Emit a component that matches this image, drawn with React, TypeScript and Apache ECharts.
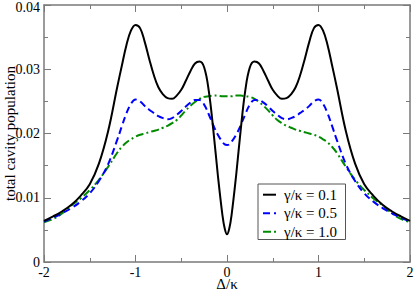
import React, { useEffect, useRef } from "react";
import * as echarts from "echarts";

// Detuning Δ/κ
const detuning = [
  -2, -1.9, -1.8, -1.7, -1.6, -1.5, -1.4, -1.3, -1.2, -1.15, -1.1, -1.05, -1,
  -0.95, -0.9, -0.85, -0.8, -0.75, -0.7, -0.65, -0.6, -0.55, -0.5, -0.45, -0.4,
  -0.35, -0.3, -0.25, -0.2, -0.15, -0.1, -0.05, -0.025, 0, 0.025, 0.05, 0.1,
  0.15, 0.2, 0.25, 0.3, 0.35, 0.4, 0.45, 0.5, 0.55, 0.6, 0.65, 0.7, 0.75, 0.8,
  0.85, 0.9, 0.95, 1, 1.05, 1.1, 1.15, 1.2, 1.3, 1.4, 1.5, 1.6, 1.7, 1.8, 1.9, 2,
];

// γ/κ = 0.1
const popGamma01 = [
  0.0064, 0.0071, 0.0079, 0.0089, 0.0103, 0.0121, 0.0153, 0.0203, 0.0272,
  0.0305, 0.0337, 0.036, 0.0369, 0.0364, 0.0343, 0.0316, 0.0291, 0.0272, 0.0261,
  0.0255, 0.0254, 0.0259, 0.0268, 0.0282, 0.0297, 0.0309, 0.0312, 0.0303,
  0.0267, 0.0206, 0.0135, 0.0073, 0.0052, 0.0043, 0.0052, 0.0073, 0.0135,
  0.0206, 0.0267, 0.0303, 0.0312, 0.0309, 0.0297, 0.0282, 0.0268, 0.0259,
  0.0254, 0.0255, 0.0261, 0.0272, 0.0291, 0.0316, 0.0343, 0.0364, 0.0369,
  0.036, 0.0337, 0.0305, 0.0272, 0.0203, 0.0153, 0.0121, 0.0103, 0.0089,
  0.0079, 0.0071, 0.0064,
];

// γ/κ = 0.5
const popGamma05 = [
  0.0063, 0.0069, 0.0076, 0.0084, 0.0094, 0.0107, 0.0126, 0.0152, 0.019, 0.0211,
  0.0231, 0.0246, 0.0253, 0.025, 0.0243, 0.0237, 0.0232, 0.0227, 0.0224, 0.0222,
  0.0224, 0.0229, 0.0235, 0.0242, 0.0248, 0.0252, 0.0252, 0.0245, 0.023,
  0.0213, 0.0198, 0.0187, 0.0183, 0.0182, 0.0183, 0.0187, 0.0198, 0.0213,
  0.023, 0.0245, 0.0252, 0.0252, 0.0248, 0.0242, 0.0235, 0.0229, 0.0224,
  0.0222, 0.0224, 0.0227, 0.0232, 0.0237, 0.0243, 0.025, 0.0253, 0.0246,
  0.0231, 0.0211, 0.019, 0.0152, 0.0126, 0.0107, 0.0094, 0.0084, 0.0076,
  0.0069, 0.0063,
];

// γ/κ = 1.0
const popGamma10 = [
  0.0062, 0.0067, 0.0076, 0.0088, 0.0099, 0.0112, 0.0128, 0.0148, 0.017, 0.0179,
  0.0186, 0.0191, 0.0195, 0.0198, 0.02, 0.0202, 0.0204, 0.0206, 0.0209, 0.0212,
  0.0216, 0.0221, 0.0228, 0.0236, 0.0243, 0.0249, 0.0254, 0.0257, 0.0258,
  0.0259, 0.0259, 0.0258, 0.0258, 0.0258, 0.0258, 0.0258, 0.0259, 0.0259,
  0.0258, 0.0257, 0.0254, 0.0249, 0.0243, 0.0236, 0.0228, 0.0221, 0.0216,
  0.0212, 0.0209, 0.0206, 0.0204, 0.0202, 0.02, 0.0198, 0.0195, 0.0191, 0.0186,
  0.0179, 0.017, 0.0148, 0.0128, 0.0112, 0.0099, 0.0088, 0.0076, 0.0067,
  0.0062,
];

const seriesNames = ["γ/κ = 0.1", "γ/κ = 0.5", "γ/κ = 1.0"];
const seriesColors = ["#000000", "#0000ff", "#008b00"];
const seriesDash: (number[] | null)[] = [null, [7, 4], [8, 3, 2, 3]];
const xLabelName = "Δ/κ";
const yLabelName = "total cavity population";
const yMaxLabel = "0.04";

const FONT = "'Times New Roman', 'Liberation Serif', serif";
const FRAME = "#7a7a7a";

export default function App() {
  const ref = useRef<HTMLDivElement>(null);

  useEffect(() => {
    if (!ref.current) return;
    const chart = echarts.init(ref.current, undefined, { renderer: "svg" });
    const pairs = (ys: number[]) => detuning.map((x, i) => [x, ys[i]]);

    const xBase = {
      type: "value" as const,
      min: -2,
      max: 2,
      interval: 1,
      axisLine: { show: true, onZero: false, lineStyle: { color: FRAME, width: 1.5 } },
      axisTick: { show: true, inside: true, length: 7, lineStyle: { color: FRAME, width: 1 } },
      minorTick: { show: true, splitNumber: 2, length: 4, lineStyle: { color: FRAME, width: 1 } },
      splitLine: { show: false },
      minorSplitLine: { show: false },
    };
    const yBase = {
      type: "value" as const,
      min: 0,
      max: 0.04,
      interval: 0.01,
      axisLine: { show: true, onZero: false, lineStyle: { color: FRAME, width: 1.5 } },
      axisTick: { show: true, inside: true, length: 7, lineStyle: { color: FRAME, width: 1 } },
      minorTick: { show: true, splitNumber: 2, length: 4, lineStyle: { color: FRAME, width: 1 } },
      splitLine: { show: false },
      minorSplitLine: { show: false },
    };

    // Legend drawn as graphic (box, line samples, labels)
    const legendLeft = 258;
    const legendTop = 184;
    const rowY = [194.7, 213.2, 231.8];
    const legendChildren: any[] = [
      {
        type: "rect",
        shape: { x: legendLeft, y: legendTop, width: 87.5, height: 55.5 },
        style: { fill: "#ffffff", stroke: "#555555", lineWidth: 1 },
      },
    ];
    seriesNames.forEach((name, i) => {
      legendChildren.push({
        type: "line",
        shape: { x1: legendLeft + 5, y1: rowY[i], x2: legendLeft + 18, y2: rowY[i] },
        style: {
          stroke: seriesColors[i],
          lineWidth: 2,
          lineDash: seriesDash[i] ?? undefined,
        },
      });
      legendChildren.push({
        type: "text",
        x: legendLeft + 26,
        y: rowY[i],
        style: {
          text: name,
          fontFamily: FONT,
          fontSize: 15,
          fill: "#000000",
          verticalAlign: "middle",
          align: "left",
        },
      });
    });

    chart.setOption({
      animation: false,
      backgroundColor: "#ffffff",
      textStyle: { fontFamily: FONT },
      grid: {
        left: 44,
        top: 5,
        width: 366,
        height: 257,
        containLabel: false,
        outerBoundsMode: "none",
      },
      graphic: [
        { type: "group", z: 100, children: legendChildren },
        {
          type: "text",
          x: 40,
          y: 7,
          style: {
            text: yMaxLabel,
            fontFamily: FONT,
            fontSize: 14,
            lineHeight: 12,
            fill: "#000000",
            align: "right",
            verticalAlign: "middle",
          },
        },
      ],
      xAxis: [
        {
          ...xBase,
          position: "bottom",
          name: xLabelName,
          nameLocation: "middle",
          nameGap: 15.5,
          nameMoveOverlap: false,
          nameTextStyle: { fontFamily: FONT, fontSize: 15, lineHeight: 12, color: "#000" },
          axisLabel: {
            show: true,
            margin: 4,
            fontFamily: FONT,
            fontSize: 14,
            lineHeight: 12,
            color: "#000",
          },
        },
        { ...xBase, position: "top", axisLabel: { show: false } },
      ],
      yAxis: [
        {
          ...yBase,
          position: "left",
          name: yLabelName,
          nameLocation: "middle",
          nameGap: 27,
          nameMoveOverlap: false,
          nameTextStyle: { fontFamily: FONT, fontSize: 15, color: "#000" },
          axisLabel: {
            show: true,
            margin: 4,
            fontFamily: FONT,
            fontSize: 14,
            lineHeight: 12,
            color: "#000",
            showMaxLabel: false,
          },
        },
        { ...yBase, position: "right", axisLabel: { show: false } },
      ],
      series: seriesNames.map((name, i) => ({
        name,
        type: "line",
        data: pairs([popGamma01, popGamma05, popGamma10][i]),
        xAxisIndex: 0,
        yAxisIndex: 0,
        showSymbol: false,
        symbol: "none",
        smooth: 0.4,
        lineStyle: {
          color: seriesColors[i],
          width: 2,
          type: seriesDash[i] ?? "solid",
        },
        itemStyle: { color: seriesColors[i] },
        z: 3 - i,
      })),
    });
    return () => chart.dispose();
  }, []);

  return (
    <div
      ref={ref}
      style={{ position: "fixed", left: 0, top: 0, width: 415, height: 290, background: "#fff" }}
    />
  );
}
